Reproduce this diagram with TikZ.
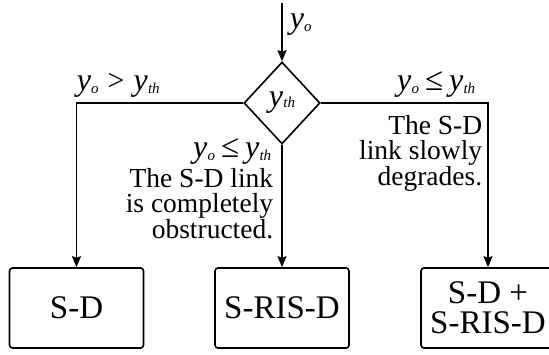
\documentclass[tikz,border=0pt]{standalone}
\usepackage{fontspec}
\setmainfont{Liberation Serif}
\usetikzlibrary{shapes.geometric,arrows.meta}
\newcommand\yv[1]{{\fontsize{32}{32}\selectfont\textit{y}}\kern0.2pt\raisebox{-0.1em}{\fontsize{15}{15}\selectfont\textit{#1}}}
\newcommand\leqsym{{\fontsize{33}{33}\selectfont ≤}}
\begin{document}
\begin{tikzpicture}[x=1pt,y=-1pt,
  line width=1.6pt,
  arr/.style={-{Stealth[length=11pt,width=9pt,inset=1.5pt]}},
  lbl/.style={inner sep=0pt,font=\fontsize{30}{30}\selectfont},
  txt/.style={inner sep=0pt,align=right,font=\fontsize{27.5}{25}\selectfont},
  boxnode/.style={draw,rounded corners=3pt,minimum width=134pt,minimum height=80pt,inner sep=0pt,align=center,font=\fontsize{33}{30}\selectfont}]
\clip (0,0) rectangle (549,354);
\coordinate (start) at (282,3);
\node[draw,shape=diamond,inner sep=0pt,minimum width=76pt,minimum height=82pt,aspect=0.93] (dia) at (282,103) {\yv{th}};
\node[boxnode] (b1) at (76.5,308) {S-D};
\node[boxnode] (b2) at (282,308) {S-RIS-D};
\node[boxnode] (b3) at (488,308) {S-D +\\S-RIS-D};
\draw[arr] (start) -- (dia.north);
\draw[arr] (dia.west) -| (b1.north);
\draw[arr] (dia.south) -- (b2.north);
\draw[arr] (dia.east) -| (b3.north);
\node[lbl,anchor=base west] (ltop) at (289,28) {\yv{o}};
\node[lbl,anchor=base west] (lleft) at (76,90) {\yv{o}\hspace{9pt}>\hspace{9pt}\yv{th}};
\node[lbl,anchor=base east] (lright) at (476,90) {\yv{o}\hspace{6pt}\leqsym\hspace{6pt}\yv{th}};
\node[lbl,anchor=base east] (lmid) at (272,157) {\yv{o}\hspace{6pt}\leqsym\hspace{6pt}\yv{th}};
\node[txt,anchor=north east] (tright) at (483,115) {The S-D\\link slowly\\degrades.};
\node[txt,anchor=north east] (tmid) at (274,168) {The S-D link\\is completely\\obstructed.};
\end{tikzpicture}
\end{document}
